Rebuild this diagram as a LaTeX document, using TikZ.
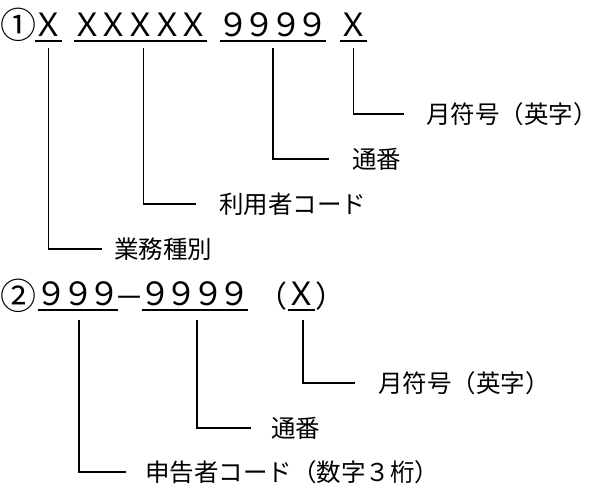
\documentclass[tikz,border=0pt]{standalone}
\usepackage{fontspec}
\setmainfont{Noto Sans CJK JP}
\usetikzlibrary{calc}
\newcommand\cbox[1]{\makebox[26.6pt]{#1}}
\begin{document}
\begin{tikzpicture}[x=1pt,y=-1pt,
  conn/.style={line width=1.8pt},
  ul/.style={line width=2.2pt},
  grp/.style={inner sep=0pt, anchor=south, text height=24pt, text depth=4.5pt, font=\fontsize{32}{32}\selectfont},
  circ/.style={inner sep=0pt, font=\fontsize{36}{36}\selectfont},
  sym/.style={inner sep=0pt, font=\fontsize{30}{30}\selectfont},
  lab/.style={anchor=west, inner sep=0pt, font=\fontsize{24.5}{24.5}\selectfont}
]
\useasboundingbox (0,0) rectangle (600,484);
% ---- row 1
\node[circ] (c1) at (19,25) {①};
\node[grp] (g1) at (48.5,41) {\cbox{Ｘ}};
\node[grp] (g2) at (140.5,41) {\cbox{Ｘ}\cbox{Ｘ}\cbox{Ｘ}\cbox{Ｘ}\cbox{Ｘ}};
\node[grp] (g3) at (273,41) {\cbox{９}\cbox{９}\cbox{９}\cbox{９}};
\node[grp] (g4) at (353.5,41) {\cbox{Ｘ}};
\foreach \n in {g1,g2,g3,g4} \draw[ul] (\n.south west) -- (\n.south east);
\node[lab] (l1) at (426,114) {月符号（英字）};
\node[lab] (l2) at (352,159) {通番};
\node[lab] (l3) at (219,204) {利用者コード};
\node[lab] (l4) at (114,249) {業務種別};
\draw[conn] ($(g4.south)+(0,7)$) |- ($(l1.west)+(-22,0)$);
\draw[conn] ($(g3.south)+(0,7)$) |- ($(l2.west)+(-23,0)$);
\draw[conn] ($(g2.south)+(3,7)$) |- ($(l3.west)+(-23,0)$);
\draw[conn] ($(g1.south)+(0,7)$) |- ($(l4.west)+(-12,0)$);
% ---- row 2
\node[circ] (c2) at (19,296) {②};
\node[grp] (h1) at (78,310) {\cbox{９}\cbox{９}\cbox{９}};
\node[sym] (dash) at (129.9,302) {\makebox[21pt]{－}};
\node[grp] (h2) at (195,310) {\cbox{９}\cbox{９}\cbox{９}\cbox{９}};
\node[sym] (lp) at (272,296) {（};
\node[grp] (h3) at (301,310) {\cbox{Ｘ}};
\node[sym] (rp) at (330,296) {）};
\foreach \n in {h1,h2,h3} \draw[ul] (\n.south west) -- (\n.south east);
\node[lab] (m1) at (378,383) {月符号（英字）};
\node[lab] (m2) at (271,428) {通番};
\node[lab] (m3) at (145,472) {申告者コード（数字３桁）};
\draw[conn] ($(h3.south)+(2,10)$) |- ($(m1.west)+(-23,0)$);
\draw[conn] ($(h2.south)+(2,10)$) |- ($(m2.west)+(-20,0)$);
\draw[conn] ($(h1.south)+(1,10)$) |- ($(m3.west)+(-19,0)$);
\end{tikzpicture}
\end{document}
